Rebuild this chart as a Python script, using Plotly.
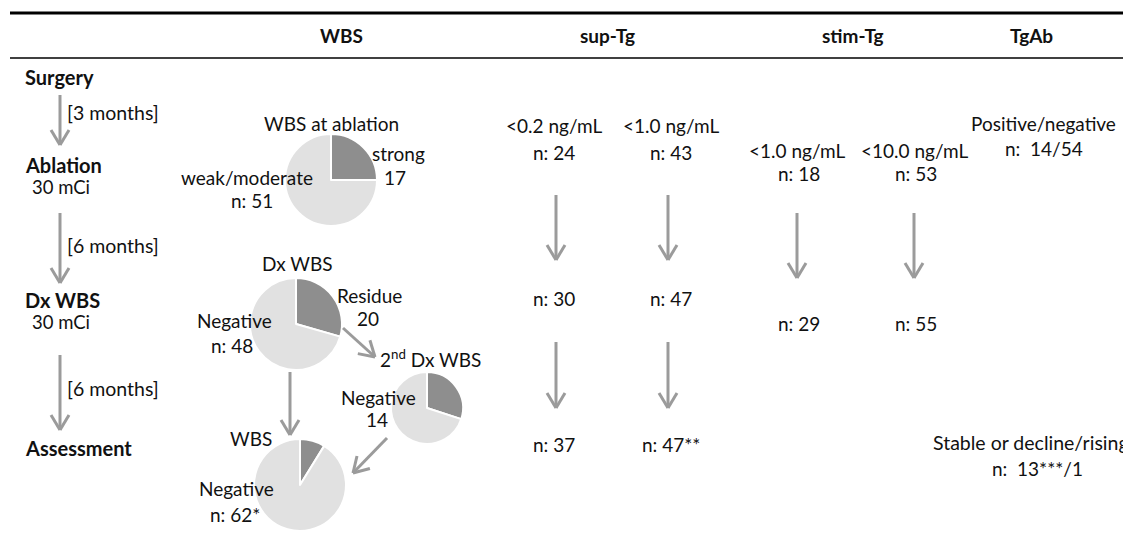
import math
import plotly.graph_objects as go

W, H = 1131, 533
OFF = 8  # page body margin: keep coordinates in screen pixels

# ---------------- data ----------------
columns = ["WBS", "sup-Tg", "stim-Tg", "TgAb"]
stages = ["Surgery", "Ablation", "Dx WBS", "Assessment"]
stage_doses = ["30 mCi", "30 mCi"]
intervals = ["[3 months]", "[6 months]", "[6 months]"]

ablation_labels = ["strong", "weak/moderate"]
ablation_counts = [17, 51]
dx_labels = ["Residue", "Negative"]
dx_counts = [20, 48]
dx2_labels = ["Residue", "Negative"]
dx2_counts = [6, 14]
assess_labels = ["WBS", "Negative"]
assess_counts = [6, 62]

sup_thresholds = ["<0.2 ng/mL", "<1.0 ng/mL"]
sup_ablation = ["24", "43"]
sup_dx = ["30", "47"]
sup_assess = ["37", "47**"]

stim_thresholds = ["<1.0 ng/mL", "<10.0 ng/mL"]
stim_ablation = ["18", "53"]
stim_dx = ["29", "55"]

tgab_ablation_label = "Positive/negative"
tgab_ablation = "14/54"
tgab_assess_label = "Stable or decline/rising"
tgab_assess = "13***/1"

# ---------------- style ----------------
FONT = "Lato"
FS = 19
TXT = "#111111"
DARK = "#8e8e8e"
LIGHT = "#e1e1e1"
ARROW = "#9b9b9b"

fig = go.Figure()

def add_pie(values, labels, cx, cy, r):
    fig.add_trace(go.Pie(
        values=values, labels=labels, sort=False, direction="clockwise",
        rotation=0, textinfo="none", hoverinfo="label+value",
        marker=dict(colors=[DARK, LIGHT], line=dict(color="white", width=2)),
        domain=dict(x=[(cx - r - OFF) / W, (cx + r - OFF) / W],
                    y=[1 - (cy + r - OFF) / H, 1 - (cy - r - OFF) / H]),
        showlegend=False))

add_pie(ablation_counts, ablation_labels, 331, 180, 46)
add_pie(dx_counts, dx_labels, 296, 324, 46)
add_pie(dx2_counts, dx2_labels, 427, 408, 36)
add_pie(assess_counts, assess_labels, 300, 485, 46)

ann = []
def txt(x, y, s, anchor="center", bold=False, size=FS):
    if bold:
        s = "<b>" + s + "</b>"
    ann.append(dict(x=x, y=y, xref="x", yref="y", text=s, showarrow=False,
                    xanchor=anchor, yanchor="middle",
                    font=dict(family=FONT, size=size, color=TXT)))

# header
for name, x in zip(columns, [341, 607, 853, 1031]):
    txt(x, 35, name, bold=True, size=19)

# left column
for name, y in zip(stages, [77, 165, 300, 448]):
    txt(23, y, name, anchor="left", bold=True, size=20)
for d, y in zip(stage_doses, [187, 322]):
    txt(30, y, d, anchor="left", size=18.5)
for iv, y in zip(intervals, [112, 245, 388]):
    txt(65, y, iv, anchor="left", size=19.5)

# WBS column texts
txt(331, 123, "WBS at ablation")
txt(398, 153, ablation_labels[0])
txt(395, 177, str(ablation_counts[0]))
txt(247, 177, ablation_labels[1])
txt(252, 200, "n: %d" % ablation_counts[1])
txt(297, 263, "Dx WBS")
txt(369, 295, dx_labels[0])
txt(368, 318, str(dx_counts[0]))
txt(234, 320, dx_labels[1])
txt(232, 345, "n: %d" % dx_counts[1])
txt(430, 358, "2<sup>nd</sup> Dx WBS")
txt(378, 397, dx2_labels[1])
txt(377, 419, str(dx2_counts[1]))
txt(251, 438, assess_labels[0])
txt(236, 488, assess_labels[1])
txt(235, 514, "n: %d*" % assess_counts[1])

# sup-Tg
for x, th, a, d, s in zip([554, 671], sup_thresholds, sup_ablation, sup_dx, sup_assess):
    txt(x, 125, th)
    txt(x, 152, "n: " + a)
    txt(x, 298, "n: " + d)
    txt(x, 444, "n: " + s)

# stim-Tg
for x, th, a, d in zip([797, 914], stim_thresholds, stim_ablation, stim_dx):
    txt(x, 150, th)
    txt(x + 2, 173, "n: " + a)
    txt(x + 2, 323, "n: " + d)

# TgAb
txt(1043, 123, tgab_ablation_label)
txt(1044, 148, "n:  " + tgab_ablation)
txt(931, 442, tgab_assess_label, anchor="left", size=19.5)
txt(1037, 468, "n:  " + tgab_assess)

shapes = []
# rules
shapes.append(dict(type="line", xref="x", yref="y", x0=10, x1=W + OFF, y0=13, y1=13,
                   line=dict(color="black", width=3)))
shapes.append(dict(type="line", xref="x", yref="y", x0=10, x1=W + OFF, y0=58, y1=58,
                   line=dict(color="black", width=1.5)))

def arrow(x0, y0, x1, y1, head=15, half=9, w=3):
    shapes.append(dict(type="line", xref="x", yref="y", x0=x0, y0=y0, x1=x1, y1=y1,
                       line=dict(color=ARROW, width=w)))
    dx, dy = x1 - x0, y1 - y0
    L = math.hypot(dx, dy)
    ux, uy = dx / L, dy / L
    px, py = -uy, ux
    for sgn in (1, -1):
        shapes.append(dict(type="line", xref="x", yref="y",
                           x0=x1 - ux * head + sgn * px * half,
                           y0=y1 - uy * head + sgn * py * half,
                           x1=x1, y1=y1, line=dict(color=ARROW, width=w)))

# timeline arrows
arrow(60, 95, 60, 145)
arrow(60, 213, 60, 283)
arrow(60, 355, 60, 430)
# WBS arrows
arrow(343, 328, 375, 357)
arrow(290, 372, 290, 435)
arrow(387, 438, 353, 473)
# sup-Tg arrows
for x in [556, 668]:
    arrow(x, 195, x, 260)
    arrow(x, 342, x, 408)
# stim-Tg arrows
for x in [797, 914]:
    arrow(x, 213, x, 278)

fig.update_layout(
    width=W, height=H, margin=dict(l=0, r=0, t=0, b=0),
    paper_bgcolor="white", plot_bgcolor="white",
    xaxis=dict(range=[OFF, W + OFF], visible=False, fixedrange=True),
    yaxis=dict(range=[H + OFF, OFF], visible=False, fixedrange=True),
    annotations=ann, shapes=shapes, showlegend=False,
)

fig.write_html("out.html")
